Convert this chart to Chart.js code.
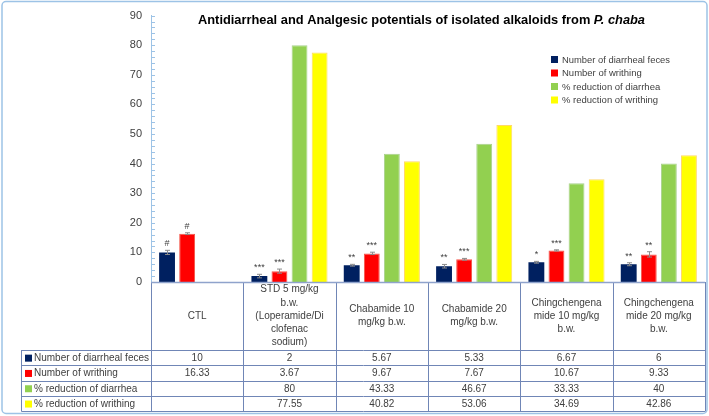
<!DOCTYPE html>
<html>
<head>
  <meta charset="utf-8">
  <title>Antidiarrheal and Analgesic potentials</title>
  <script src="https://cdn.jsdelivr.net/npm/chart.js"></script>
  <style>
    html, body { margin: 0; padding: 0; background: #ffffff; }
    canvas { display: block; }
  </style>
</head>
<body>
<canvas id="alkaloidChart" width="709" height="416"></canvas>

<script>
  // group labels, already wrapped the way the table header shows them
  const groups = [
    ["CTL"],
    ["STD 5 mg/kg", "b.w.", "(Loperamide/Di", "clofenac", "sodium)"],
    ["Chabamide 10", "mg/kg b.w."],
    ["Chabamide 20", "mg/kg b.w."],
    ["Chingchengena", "mide 10 mg/kg", "b.w."],
    ["Chingchengena", "mide 20 mg/kg", "b.w."]
  ];
  const seriesNames = [
    "Number of diarrheal feces",
    "Number of writhing",
    "% reduction of diarrhea",
    "% reduction of writhing"
  ];
  const diarrhealFeces    = [10, 2, 5.67, 5.33, 6.67, 6];
  const writhingCount     = [16.33, 3.67, 9.67, 7.67, 10.67, 9.33];
  const reductionDiarrhea = [null, 80, 43.33, 46.67, 33.33, 40];
  const reductionWrithing = [null, 77.55, 40.82, 53.06, 34.69, 42.86];

  // error bars (estimated) and significance marks for the two count series
  const fecesError    = [0.7, 0.6, 0.3, 0.6, 0.3, 0.5];
  const writhingError = [0.3, 0.7, 0.4, 0.3, 0.2, 0.9];
  const fecesSig      = ["#", "***", "**", "**", "*", "**"];
  const writhingSig   = ["#", "***", "***", "***", "***", "**"];

  const yMin = 0, yMax = 90, yStep = 10;

  const fills   = ['#002060', '#FF0000', '#92D050', '#FFFF00'];
  const borders = ['#002060', '#F4564A', '#A9D18E', '#FFD966'];
  const FONT = "'Liberation Sans', Arial, sans-serif";

  const allSeries = [diarrhealFeces, writhingCount, reductionDiarrhea, reductionWrithing];

  // error bars + stars above the first two series
  const errorBarPlugin = {
    id: 'errorBars',
    afterDatasetsDraw(chart) {
      const ctx = chart.ctx;
      const y = chart.scales.y;
      const sets = [[0, fecesError, fecesSig], [1, writhingError, writhingSig]];
      ctx.save();
      sets.forEach(([di, errs, sigs]) => {
        const meta = chart.getDatasetMeta(di);
        meta.data.forEach((bar, i) => {
          const v = allSeries[di][i];
          if (v == null) return;
          const top = y.getPixelForValue(v + errs[i]);
          const bot = y.getPixelForValue(v - errs[i]);
          const x = Math.round(bar.x) + 0.5;
          ctx.strokeStyle = '#8C8C8C';
          ctx.lineWidth = 1;
          ctx.beginPath();
          ctx.moveTo(x, top); ctx.lineTo(x, bot);
          ctx.moveTo(x - 2.5, top); ctx.lineTo(x + 2.5, top);
          ctx.moveTo(x - 2.5, bot); ctx.lineTo(x + 2.5, bot);
          ctx.stroke();
          ctx.fillStyle = '#404040';
          ctx.font = '9px ' + FONT;
          ctx.textAlign = 'center';
          ctx.textBaseline = 'alphabetic';
          ctx.fillText(sigs[i], bar.x, top - 4);
        });
      });
      ctx.restore();
    }
  };

  // title, legend, minor ticks, data table and outer frame
  const decorPlugin = {
    id: 'decor',
    afterDraw(chart) {
      const ctx = chart.ctx;
      const a = chart.chartArea;
      const y = chart.scales.y;
      ctx.save();

      // minor ticks on the value axis
      ctx.strokeStyle = '#9DC3E6';
      ctx.lineWidth = 1;
      ctx.beginPath();
      for (let v = yMin; v <= yMax; v += 2) {
        const py = Math.round(y.getPixelForValue(v)) + 0.5;
        ctx.moveTo(a.left, py); ctx.lineTo(a.left + 4, py);
      }
      ctx.stroke();

      // title, bold with italic species name
      const t1 = 'Antidiarrheal and Analgesic potentials of isolated alkaloids from ';
      const t2 = 'P. chaba';
      ctx.fillStyle = '#000000';
      ctx.textBaseline = 'alphabetic';
      ctx.textAlign = 'left';
      ctx.font = 'bold 13px ' + FONT;
      const w1 = ctx.measureText(t1).width;
      ctx.font = 'italic bold 13px ' + FONT;
      const w2 = ctx.measureText(t2).width;
      const sx = 447 / (w1 + w2);
      ctx.save();
      ctx.translate(198, 23.5);
      ctx.scale(sx, 1);
      ctx.font = 'bold 13px ' + FONT;
      ctx.fillText(t1, 0, 0);
      ctx.font = 'italic bold 13px ' + FONT;
      ctx.fillText(t2, w1, 0);
      ctx.restore();

      // legend
      const legY = [59.5, 73, 86.5, 100];
      ctx.font = '9.5px ' + FONT;
      ctx.textBaseline = 'middle';
      seriesNames.forEach((name, i) => {
        ctx.fillStyle = fills[i];
        ctx.fillRect(551, legY[i] - 3.5, 7, 7);
        ctx.fillStyle = '#404040';
        ctx.fillText(name, 562, legY[i] + 0.5, 108);
      });

      // data table
      const n = groups.length;
      const colW = (a.right - a.left) / n;
      const rowTop = 350, rowH = 15.3, tableLeft = 21;
      const tableBottom = rowTop + 4 * rowH;

      ctx.strokeStyle = '#7086B6';
      ctx.lineWidth = 1;
      ctx.beginPath();
      for (let i = 0; i <= n; i++) {
        const px = Math.round(a.left + i * colW) + 0.5;
        ctx.moveTo(px, a.bottom); ctx.lineTo(px, tableBottom);
      }
      for (let r = 0; r <= 4; r++) {
        const py = Math.round(rowTop + r * rowH) + 0.5;
        ctx.moveTo(tableLeft + 0.5, py); ctx.lineTo(Math.round(a.right) + 0.5, py);
      }
      ctx.moveTo(tableLeft + 0.5, rowTop); ctx.lineTo(tableLeft + 0.5, Math.round(tableBottom) + 0.5);
      ctx.stroke();

      // zero line / header top
      ctx.strokeStyle = '#8FA3CC';
      ctx.lineWidth = 1.5;
      ctx.beginPath();
      ctx.moveTo(a.left, a.bottom + 0.5); ctx.lineTo(a.right, a.bottom + 0.5);
      ctx.stroke();

      // header labels
      ctx.fillStyle = '#404040';
      ctx.font = '10px ' + FONT;
      ctx.textAlign = 'center';
      ctx.textBaseline = 'middle';
      groups.forEach((lines, i) => {
        const cx = a.left + (i + 0.5) * colW;
        const lh = 13.2;
        const y0 = 316 - (lines.length - 1) * lh / 2;
        lines.forEach((ln, k) => ctx.fillText(ln, cx, y0 + k * lh, colW - 6));
      });

      // rows
      allSeries.forEach((vals, r) => {
        const cy = rowTop + (r + 0.5) * rowH + 0.5;
        ctx.fillStyle = fills[r];
        ctx.fillRect(25, cy - 3.5, 7, 7);
        ctx.fillStyle = '#404040';
        ctx.textAlign = 'left';
        ctx.fillText(seriesNames[r], 34, cy, 115);
        ctx.textAlign = 'center';
        vals.forEach((v, i) => {
          if (v == null) return;
          ctx.fillText(String(v), a.left + (i + 0.5) * colW, cy);
        });
      });

      // outer frame
      ctx.strokeStyle = '#9DC3E6';
      ctx.lineWidth = 1.5;
      ctx.beginPath();
      if (ctx.roundRect) ctx.roundRect(2, 1.5, 705, 412, 4);
      else ctx.rect(2, 1.5, 705, 412);
      ctx.stroke();

      ctx.restore();
    }
  };

  new Chart(document.getElementById('alkaloidChart'), {
    type: 'bar',
    data: {
      labels: groups,
      datasets: allSeries.map((vals, i) => ({
        label: seriesNames[i],
        data: vals,
        backgroundColor: fills[i],
        borderColor: borders[i],
        borderWidth: i === 0 ? 0 : 1,
        categoryPercentage: 0.87,
        barPercentage: 0.79
      }))
    },
    options: {
      responsive: false,
      animation: false,
      devicePixelRatio: 1,
      layout: { padding: { top: 8, right: 4, left: 0, bottom: 0 } },
      plugins: {
        legend: { display: false },
        title: { display: false },
        tooltip: { enabled: false }
      },
      scales: {
        x: {
          grid: { display: false, drawTicks: false },
          border: { display: false },
          ticks: { display: false },
          afterFit(s) { s.height = 134; }
        },
        y: {
          min: yMin,
          max: yMax,
          ticks: { stepSize: yStep, color: '#404040', font: { size: 11, family: FONT }, padding: 9 },
          grid: { display: false, drawTicks: false },
          border: { color: '#9DC3E6', width: 1 },
          afterFit(s) { s.width = 151; }
        }
      }
    },
    plugins: [errorBarPlugin, decorPlugin]
  });
</script>
</body>
</html>
